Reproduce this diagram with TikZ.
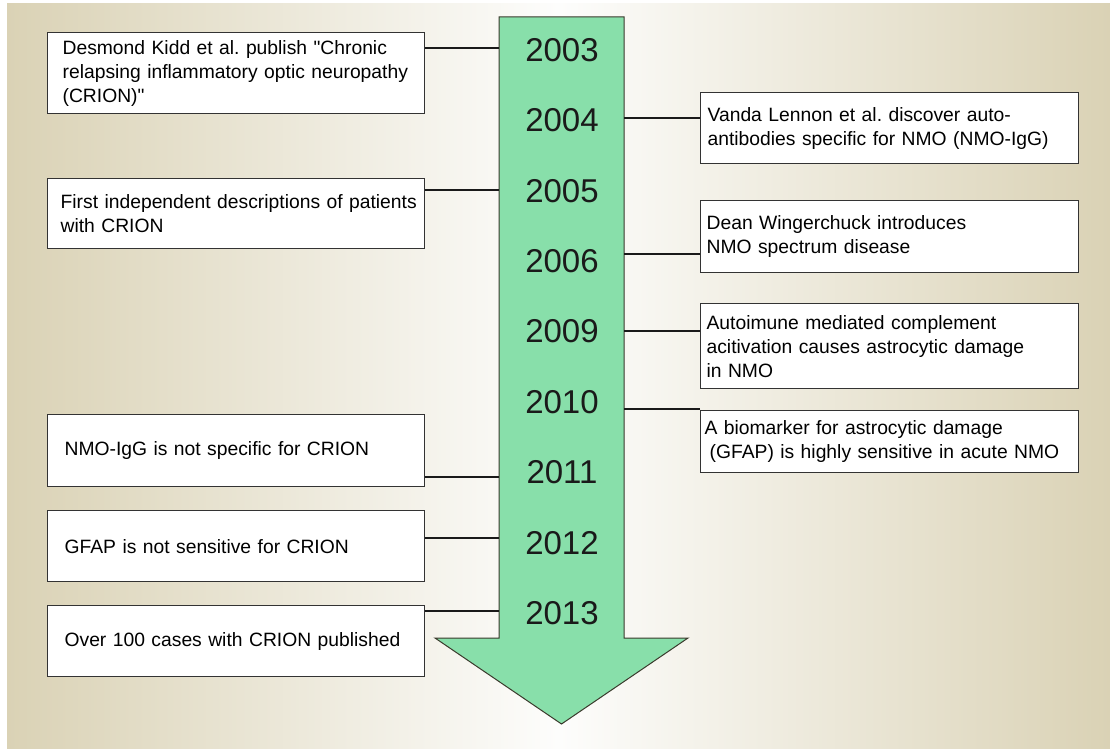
\documentclass[tikz,border=0pt]{standalone}
\usepackage{fontspec}
\setmainfont{Liberation Sans}
\frenchspacing
\definecolor{bgtan}{HTML}{DAD2B5}
\definecolor{bgwhite}{HTML}{FDFDFC}
\definecolor{arrowfill}{HTML}{88DFAA}
\definecolor{arrowline}{HTML}{3A3A2C}
\definecolor{boxline}{HTML}{333333}
\definecolor{connc}{HTML}{1A1A1A}
\tikzset{
  evbox/.style={draw=boxline, line width=1.2pt, fill=white, anchor=north west,
    minimum width=377pt, align=left, inner ysep=0pt, text=black,
    font=\fontsize{19.3}{24}\selectfont},
  conn/.style={draw=connc, line width=1.5pt},
  yearlbl/.style={text=connc, inner sep=0pt, font=\fontsize{33}{40}\selectfont},
}
\begin{document}
\begin{tikzpicture}[x=1pt,y=-1pt]
\useasboundingbox (0,0) rectangle (1110,749);
% background
\shade[left color=bgtan, right color=bgtan, middle color=bgwhite] (7,4) rectangle (1110,748);
% arrow
\draw[fill=arrowfill, draw=arrowline, line width=1pt, line join=miter]
  (499,17) -- (624,17) -- (624,638) -- (688,638) -- (561.5,724) -- (435,638) -- (499,638) -- cycle;
\coordinate (sl) at (499,17);
\coordinate (sr) at (624,17);
% years
\node[yearlbl] (y2003) at (562,50) {2003};
\node[yearlbl] (y2004) at (562,120.5) {2004};
\node[yearlbl] (y2005) at (562,191) {2005};
\node[yearlbl] (y2006) at (562,261) {2006};
\node[yearlbl] (y2009) at (562,331.5) {2009};
\node[yearlbl] (y2010) at (562,402) {2010};
\node[yearlbl] (y2011) at (562,472.5) {2011};
\node[yearlbl] (y2012) at (562,543) {2012};
\node[yearlbl] (y2013) at (562,613) {2013};
% left boxes
\node[evbox, inner xsep=15pt, text width=347pt, minimum height=81pt] (l1) at (47,32)
  {\mbox{Desmond Kidd et al. publish \textquotedbl Chronic}\\\mbox{relapsing inflammatory optic neuropathy}\\(CRION)\textquotedbl};
\node[evbox, inner xsep=13pt, text width=351pt, minimum height=70pt] (l2) at (47,178)
  {\mbox{First independent descriptions of patients}\\with CRION};
\node[evbox, inner xsep=17pt, text width=343pt, minimum height=72pt] (l3) at (47,414)
  {NMO-IgG is not specific for CRION};
\node[evbox, inner xsep=17pt, text width=343pt, minimum height=71pt] (l4) at (47,510)
  {GFAP is not sensitive for CRION};
\node[evbox, inner xsep=17pt, text width=343pt, minimum height=71pt] (l5) at (47,605)
  {Over 100 cases with CRION published};
% right boxes
\node[evbox, minimum width=378pt, inner xsep=7pt, text width=364pt, minimum height=71pt] (r1) at (700,92)
  {Vanda Lennon et al. discover auto-\\antibodies specific for NMO (NMO-IgG)};
\node[evbox, minimum width=378pt, inner xsep=6pt, text width=366pt, minimum height=72pt] (r2) at (700,200)
  {Dean Wingerchuck introduces\\NMO spectrum disease};
\node[evbox, minimum width=378pt, inner xsep=6pt, text width=366pt, minimum height=85pt] (r3) at (700,303)
  {Autoimune mediated complement\\acitivation causes astrocytic damage\\in NMO};
\node[evbox, minimum width=378pt, inner xsep=4pt, text width=370pt, minimum height=62pt] (r4) at (700,410)
  {A biomarker for astrocytic damage\\\hspace*{5pt}(GFAP) is highly sensitive in acute NMO};
% connectors left
\draw[conn] ([yshift=-16pt]l1.north east) -- ([yshift=-16pt]l1.north east -| sl);
\draw[conn] ([yshift=-12pt]l2.north east) -- ([yshift=-12pt]l2.north east -| sl);
\draw[conn] ([yshift=-63pt]l3.north east) -- ([yshift=-63pt]l3.north east -| sl);
\draw[conn] ([yshift=-28pt]l4.north east) -- ([yshift=-28pt]l4.north east -| sl);
\draw[conn] ([yshift=-6pt]l5.north east) -- ([yshift=-6pt]l5.north east -| sl);
% connectors right
\draw[conn] ([yshift=-26pt]r1.north west) -- ([yshift=-26pt]r1.north west -| sr);
\draw[conn] ([yshift=-54pt]r2.north west) -- ([yshift=-54pt]r2.north west -| sr);
\draw[conn] ([yshift=-28pt]r3.north west) -- ([yshift=-28pt]r3.north west -| sr);
\draw[conn] ([yshift=1pt]r4.north west) -- ([yshift=1pt]r4.north west -| sr);
\end{tikzpicture}
\end{document}
